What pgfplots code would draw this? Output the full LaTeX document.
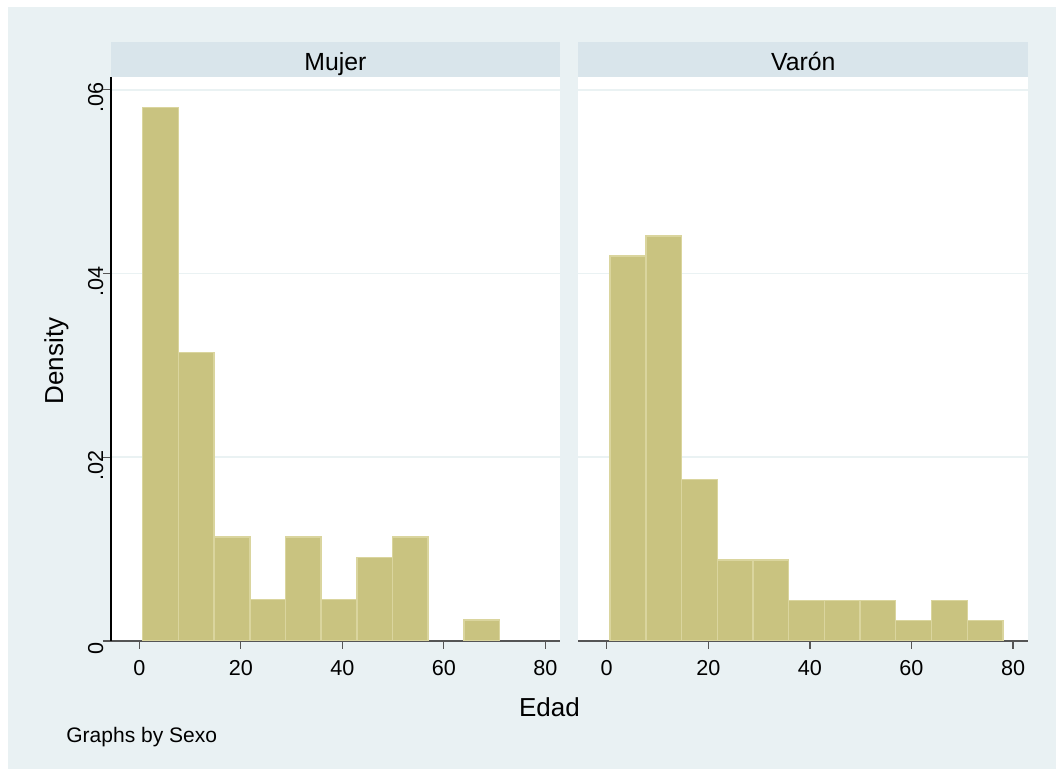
\documentclass[border=0pt]{standalone}
\usepackage{pgfplots}
\pgfplotsset{compat=1.18}
\usepackage{fontspec}
\setmainfont{Liberation Sans}

\definecolor{bgcol}{RGB}{233,241,243}
\definecolor{stripcol}{RGB}{217,229,235}
\definecolor{barfill}{RGB}{201,195,128}
\definecolor{baredge}{RGB}{218,213,158}
\definecolor{gridcol}{RGB}{234,242,243}
\definecolor{axiscol}{RGB}{85,85,85}

\pgfplotsset{
  panel/.style={
    anchor=south west, scale only axis,
    height=282pt, ymin=0, ymax=0.0614,
    axis background/.style={fill=white},
    axis x line*=bottom, axis y line*=left,
    x axis line style={axiscol, line width=0.6pt},
    tick align=outside, major tick length=4pt,
    tick style={axiscol, line width=0.6pt},
    xtick={0,20,...,80}, ytick={0,0.02,0.04,0.06},
    scaled y ticks=false,
    ymajorgrids, grid style={gridcol, line width=0.8pt},
    /pgf/number format/assume math mode=true,
    tick label style={font=\fontsize{10.8}{12}\selectfont},
    xticklabel style={yshift=-2.2pt},
  },
  hbar/.style={ybar interval, fill=barfill, draw=baredge, line width=0.7pt},
}

\begin{document}
\begin{tikzpicture}
% page and graph region
\fill[white] (0,0) rectangle (528pt,384.5pt);
\fill[bgcol] (4pt,0) rectangle (528pt,381pt);
% panel headers
\fill[stripcol] (55.5pt,346pt) rectangle (280pt,363.5pt);
\fill[stripcol] (289.15pt,346pt) rectangle (514.15pt,363.5pt);

% Mujer
\begin{axis}[panel, at={(55.5pt,64pt)}, width=224.5pt,
  xmin=-5.6, xmax=82.9,
  y axis line style={black, line width=0.6pt},
  yticklabels={0,.02,.04,.06},
  yticklabel style={rotate=90, anchor=base, inner sep=0pt, xshift=-4pt},
]
\addplot[hbar] coordinates {
  (0.667,0.0581) (7.697,0.0314) (14.728,0.0113) (21.758,0.0045)
  (28.788,0.0113) (35.818,0.0045) (42.849,0.0091) (49.879,0.0113)
  (56.909,0)
};
\addplot[hbar] coordinates {(63.939,0.0023) (70.970,0)};
\end{axis}

% Varón
\begin{axis}[panel, at={(289.15pt,64pt)}, width=225pt,
  xmin=-5.6, xmax=83.0,
  y axis line style={draw=none},
  ytick style={draw=none},
  yticklabels={},
]
\addplot[hbar] coordinates {
  (0.667,0.0419) (7.697,0.0441) (14.728,0.0176) (21.758,0.0088)
  (28.788,0.0088) (35.818,0.0044) (42.849,0.0044) (49.879,0.0044)
  (56.909,0.0022) (63.939,0.0044) (70.970,0.0022) (78.000,0)
};
\end{axis}

\node[anchor=base, font=\fontsize{12.4}{14}\selectfont] at (167.75pt,349.15pt) {Mujer};
\node[anchor=base, font=\fontsize{12.4}{14}\selectfont] at (401.65pt,349.15pt) {Varón};
\node[anchor=base, rotate=90, font=\fontsize{13}{15}\selectfont] at (31.5pt,204pt) {Density};
\node[anchor=base, font=\fontsize{13}{15}\selectfont] at (274.75pt,26pt) {Edad};
\node[anchor=base west, inner sep=0pt, font=\fontsize{10.5}{12}\selectfont] at (33pt,13pt) {Graphs by Sexo};
\end{tikzpicture}
\end{document}
